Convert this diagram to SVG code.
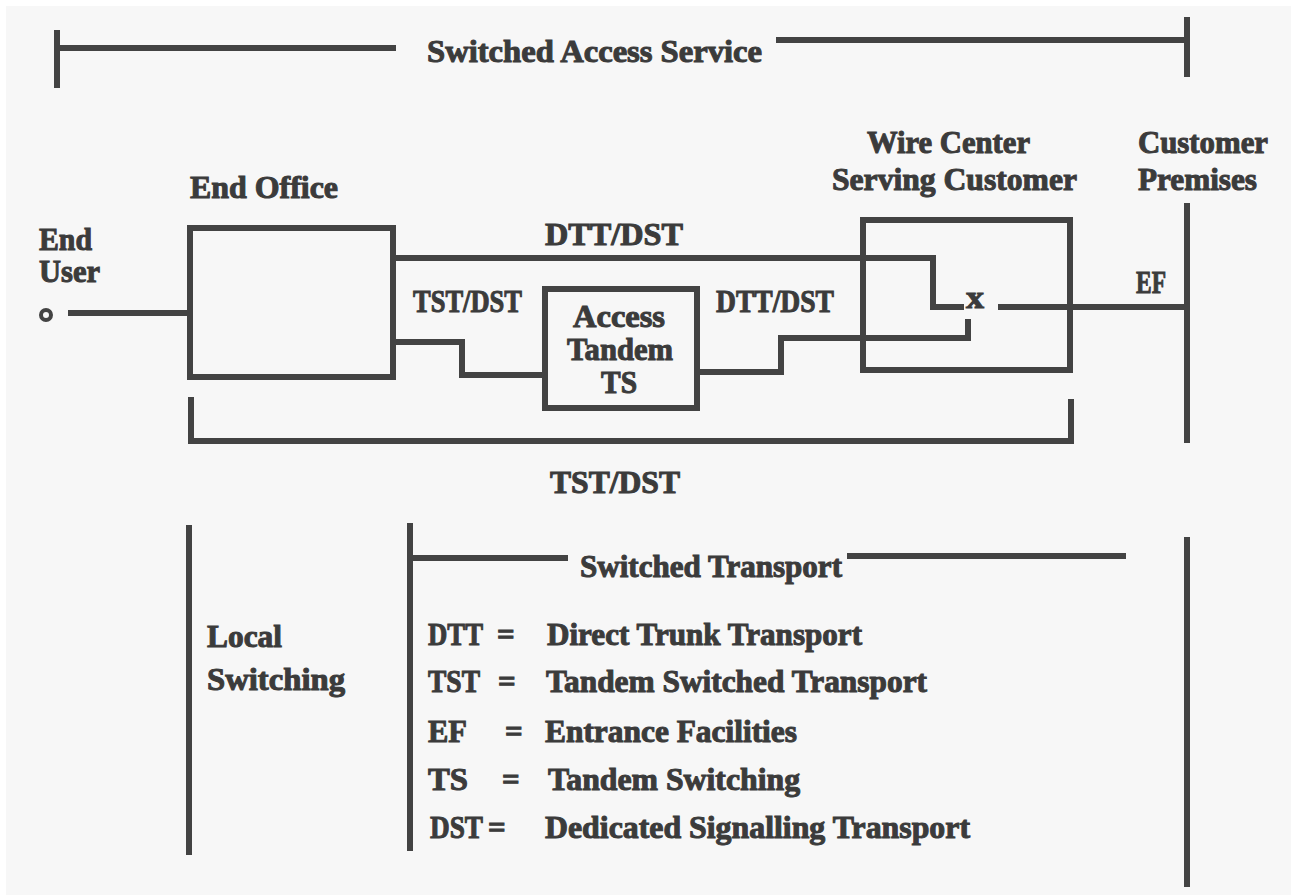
<svg xmlns="http://www.w3.org/2000/svg" width="1291" height="895" viewBox="0 0 1291 895">
  <style>
    .ln { fill: none; stroke: #434343; stroke-width: 6; stroke-linecap: square; stroke-linejoin: miter; }
    .bx { fill: none; stroke: #434343; stroke-width: 6; }
    text { font-family: "Liberation Serif", "DejaVu Serif", serif; font-weight: bold; font-size: 31px; fill: #3b3b3b; stroke: #3b3b3b; stroke-width: 1; }
    .mid { text-anchor: middle; }
  </style>
  <rect x="0" y="0" width="1291" height="895" fill="#ffffff"/>
  <rect x="6" y="6" width="1285" height="889" fill="#f7f7f7"/>

  <g id="title-bracket">
    <path class="ln" d="M57,33 V85 M57,48 H393"/>
    <path class="ln" d="M779,40 H1187 M1187,20 V74"/>
    <text x="427" y="62" textLength="335" lengthAdjust="spacingAndGlyphs">Switched Access Service</text>
  </g>

  <g id="end-user">
    <text x="39" y="250" textLength="53" lengthAdjust="spacingAndGlyphs">End</text>
    <text x="39" y="282" textLength="61" lengthAdjust="spacingAndGlyphs">User</text>
    <circle cx="46" cy="315" r="5" fill="none" stroke="#434343" stroke-width="4"/>
  </g>

  <g id="end-office">
    <text x="190" y="198" textLength="148" lengthAdjust="spacingAndGlyphs">End Office</text>
    <rect class="bx" x="190" y="228" width="203" height="149"/>
  </g>

  <g id="access-tandem">
    <rect class="bx" x="545" y="289" width="152" height="119"/>
    <text class="mid" x="619" y="327" textLength="92" lengthAdjust="spacingAndGlyphs">Access</text>
    <text class="mid" x="620" y="360" textLength="106" lengthAdjust="spacingAndGlyphs">Tandem</text>
    <text class="mid" x="619" y="393" textLength="36" lengthAdjust="spacingAndGlyphs">TS</text>
  </g>

  <g id="wire-center">
    <text x="867" y="153" textLength="163" lengthAdjust="spacingAndGlyphs">Wire Center</text>
    <text x="832" y="190" textLength="245" lengthAdjust="spacingAndGlyphs">Serving Customer</text>
    <rect class="bx" x="863" y="220" width="207" height="150"/>
    <text x="966" y="308" font-size="24" textLength="18" lengthAdjust="spacingAndGlyphs">x</text>
  </g>

  <g id="customer-premises">
    <text x="1138" y="153" textLength="130" lengthAdjust="spacingAndGlyphs">Customer</text>
    <text x="1138" y="190" textLength="119" lengthAdjust="spacingAndGlyphs">Premises</text>
    <path class="ln" d="M1187,206 V440"/>
    <text x="1136" y="293" font-size="33" textLength="30" lengthAdjust="spacingAndGlyphs">EF</text>
  </g>

  <g id="connectors">
    <path class="ln" d="M71,313 H190"/>
    <path class="ln" d="M393,258 H933 V307 H961"/>
    <path class="ln" d="M1001,307 H1187"/>
    <path class="ln" d="M393,342 H462 V375 H545"/>
    <path class="ln" d="M697,372 H781 V338 H968 V322"/>
    <text x="545" y="245" textLength="138" lengthAdjust="spacingAndGlyphs">DTT/DST</text>
    <text x="413" y="312" textLength="109" lengthAdjust="spacingAndGlyphs">TST/DST</text>
    <text x="716" y="312" textLength="118" lengthAdjust="spacingAndGlyphs">DTT/DST</text>
  </g>

  <g id="tst-bracket">
    <path class="ln" d="M191,400 V441 H1071 V402"/>
    <text x="550" y="493" textLength="130" lengthAdjust="spacingAndGlyphs">TST/DST</text>
  </g>

  <g id="legend">
    <path class="ln" d="M189,528 V852"/>
    <path class="ln" d="M410,526 V848"/>
    <path class="ln" d="M1187,540 V884"/>
    <path class="ln" d="M410,558 H565"/>
    <path class="ln" d="M850,556 H1123"/>
    <text x="580" y="577" textLength="262" lengthAdjust="spacingAndGlyphs">Switched Transport</text>

    <text x="207" y="647" textLength="75" lengthAdjust="spacingAndGlyphs">Local</text>
    <text x="207" y="690" textLength="138" lengthAdjust="spacingAndGlyphs">Switching</text>

    <text x="428" y="645" textLength="55" lengthAdjust="spacingAndGlyphs">DTT</text>
    <text x="497" y="645">=</text>
    <text x="547" y="645" textLength="315" lengthAdjust="spacingAndGlyphs">Direct Trunk Transport</text>

    <text x="428" y="692" textLength="52" lengthAdjust="spacingAndGlyphs">TST</text>
    <text x="498" y="692">=</text>
    <text x="546" y="692" textLength="381" lengthAdjust="spacingAndGlyphs">Tandem Switched Transport</text>

    <text x="428" y="742" textLength="39" lengthAdjust="spacingAndGlyphs">EF</text>
    <text x="505" y="742">=</text>
    <text x="545" y="742" textLength="252" lengthAdjust="spacingAndGlyphs">Entrance Facilities</text>

    <text x="428" y="790" textLength="40" lengthAdjust="spacingAndGlyphs">TS</text>
    <text x="502" y="790">=</text>
    <text x="548" y="790" textLength="252" lengthAdjust="spacingAndGlyphs">Tandem Switching</text>

    <text x="430" y="838" textLength="53" lengthAdjust="spacingAndGlyphs">DST</text>
    <text x="488" y="838">=</text>
    <text x="545" y="838" textLength="425" lengthAdjust="spacingAndGlyphs">Dedicated Signalling Transport</text>
  </g>
</svg>
